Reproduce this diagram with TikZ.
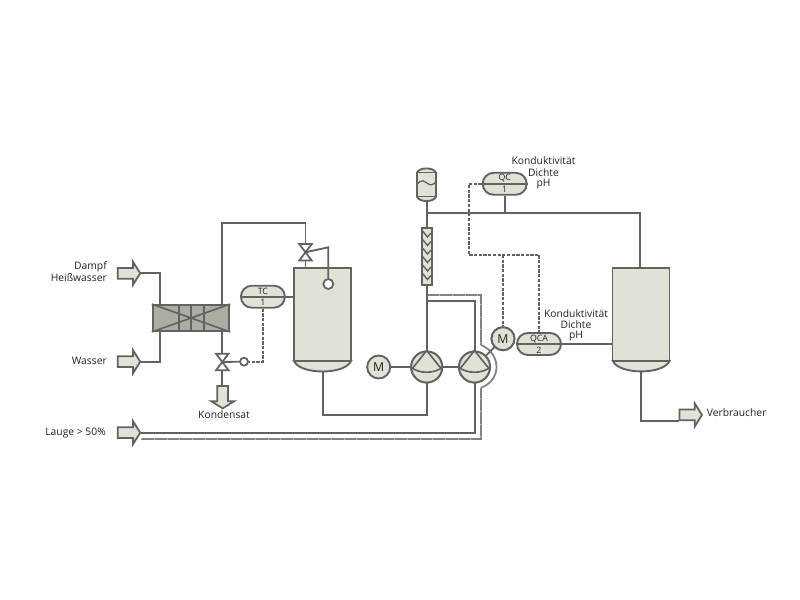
\documentclass[tikz,border=0pt]{standalone}
\usepackage{fontspec}
\setmainfont{Open Sans}
\usetikzlibrary{shapes.misc,shapes.arrows,calc}
\definecolor{ln}{HTML}{5F6462}
\definecolor{bodyfill}{HTML}{E2E1D5}
\definecolor{hxfill}{HTML}{ABADA3}
\definecolor{ductline}{HTML}{7F8383}
\definecolor{ductlight}{HTML}{B4B6B4}
\definecolor{txt}{HTML}{222222}
\def\u{0.03cm}
\tikzset{
  pipe/.style={draw=ln,line width=1.6pt},
  thin pipe/.style={draw=ln,line width=1.6pt},
  signal/.style={draw=ln,line width=1.5pt,dash pattern=on 2.8pt off 1.2pt},
  duct/.style={draw=ductline,line width=1.6pt,postaction={draw=ductlight,dash pattern=on .8pt off 10pt}},
  vessel/.style={rectangle,draw=ln,fill=bodyfill,line width=1.6pt,inner sep=0pt},
  bowl/.style={draw=ln,fill=bodyfill,line width=1.6pt},
  round item/.style={circle,draw=ln,fill=bodyfill,line width=1.6pt,inner sep=0pt},
  motor/.style={round item,minimum size=23*\u,font=\fontsize{10.5pt}{11pt}\selectfont,text=txt},
  pump/.style={round item,minimum size=31*\u},
  sensor/.style={circle,draw=ln,fill=white,line width=1.5pt,inner sep=0pt,minimum size=8*\u},
  instrument/.style={rounded rectangle,draw=ln,fill=bodyfill,line width=1.6pt,inner sep=0pt,minimum width=44*\u,minimum height=22*\u},
  inst text/.style={font=\fontsize{7.5pt}{8pt}\selectfont,text=txt,inner sep=0pt},
  caption/.style={font=\fontsize{8.8pt}{10pt}\selectfont,text=txt,inner sep=0pt},
  valve box/.style={rectangle,inner sep=0pt,minimum width=12*\u,minimum height=16*\u},
  valve shape/.style={draw=ln,fill=white,line width=1.5pt},
  flow/.style={single arrow,draw=ln,fill=bodyfill,line width=1.5pt,inner xsep=0pt,inner ysep=4.5*\u,minimum height=22.5*\u,single arrow head extend=6*\u,single arrow tip angle=116,single arrow head indent=0pt},
}
\newcommand{\pumpface}[1]{%
  \draw[ln,line width=1.4pt] (#1.west) .. controls ($(#1)+(-7,7)$) and ($(#1)+(7,7)$) .. (#1.east);
  \draw[ln,line width=1.4pt] ($(#1)+(-14,1)$) -- (#1.north) -- ($(#1)+(14,1)$);
}
\newcommand{\valvetie}[1]{%
  \draw[valve shape] (#1.north west) -- (#1.north east) -- (#1.south west) -- (#1.south east) -- cycle;
}
\newcommand{\midbar}[1]{\draw[ln,line width=1.5pt] (#1.west) -- (#1.east);}
\begin{document}
\begin{tikzpicture}[x=\u,y=-\u]
\useasboundingbox[fill=white] (0,0) rectangle (800,600);

% --- nodes
\node[flow] (inDampf) at (127.3,273.3) {};
\node[flow] (inWasser) at (127.3,361.7) {};
\node[flow] (inLauge) at (127.3,432.7) {};
\node[flow] (outVerb) at (689,414.9) {};
\node[flow,shape border rotate=270,inner xsep=4.5*\u,inner ysep=0pt] (outKond) at (222.7,395.5) {};

\node[rectangle,draw=ln,fill=hxfill,line width=1.6pt,inner sep=0pt,minimum width=76.5*\u,minimum height=26*\u] (hx) at (191,318) {};
\draw[ln,line width=1.4pt] (hx.north west) -- (hx.south east) (hx.south west) -- (hx.north east);
\draw[ln,line width=1.5pt] (178.7,305) -- (178.7,331) (191,305) -- (191,331) (203.7,305) -- (203.7,331);

\node[valve box] (vTop) at (305.5,252.3) {};
\node[valve box] (vBot) at (222.3,362) {};
\node[sensor] (sBot) at (244,361.7) {};

% tank 1
\draw[bowl] (294,361) .. controls (300,375) and (345,375) .. (351,361) -- cycle;
\coordinate (t1bot) at (322.9,371.5);
\node[vessel,minimum width=57*\u,minimum height=93.3*\u] (t1) at (322.5,314.3) {};
\node[sensor,minimum size=10*\u] (sTop) at (328.3,284) {};
% tank 2
\draw[bowl] (612.7,360.7) .. controls (618.7,375) and (663.7,375) .. (669.7,360.7) -- cycle;
\coordinate (t2bot) at (641,371.5);
\node[vessel,minimum width=57*\u,minimum height=92.7*\u] (t2) at (641,314.3) {};

% head vessel
\node[rectangle,inner sep=0pt,minimum width=19*\u,minimum height=32*\u] (head) at (426.7,184.5) {};
\draw[bowl] (417,172.7) .. controls (419,167) and (434,167) .. (436,172.7) -- (436,196.7) .. controls (434,202.5) and (419,202.5) .. (417,196.7) -- cycle;
\draw[ln,line width=1.3pt] (417,172.7) -- (436,172.7) (417,196.7) -- (436,196.7);
\draw[ln,line width=1.1pt] (417,184) .. controls (422,179) and (425,181) .. (427,183) .. controls (430,186) and (433,185) .. (436,182);

% packed column
\node[vessel,minimum width=10*\u,minimum height=57*\u] (col) at (426.7,256.2) {};
\foreach \yy in {231,239.5,248,256.5,265,273.5}{
  \draw[ln,line width=1.2pt] (422.5,\yy) -- (427.5,\yy+6) -- (431,\yy+2);
}

\node[motor] (m1) at (378.7,367) {M};
\node[pump] (p1) at (426.7,367) {};
\node[pump] (p2) at (474.5,367) {};
\node[motor] (m2) at (503,338.7) {M};

\node[instrument] (tc) at (262.9,296.7) {};
\node[instrument] (qc) at (504.7,183.8) {};
\node[instrument] (qca) at (539,344) {};

% --- connectors
\coordinate (ductTop) at (426.7,295);
\coordinate (innerTop) at (426.7,301);
\draw[duct] (inLauge.tip |- 0,439) -- (481,439) -- (481,387.7) coordinate (arcEnd);
\draw[duct] (ductTop) -- (481,295) -- (481,345) coordinate (arcStart);
\draw[draw=ductline,line width=1.5pt] (arcStart) .. controls (491,349) and (496.5,358) .. (496.5,367) .. controls (496.5,376) and (491,384) .. (arcEnd);

\draw[pipe] (inDampf.tip) -| (hx.north -| 160,0);
\draw[pipe] (inWasser.tip) -| (hx.south -| 160,0);
\draw[pipe] (hx.north -| 222.3,0) |- (vTop.north |- 0,223) -- (vTop.north);
\draw[pipe] (vTop.south) -- (vTop.south |- t1.north);
\draw[pipe] (hx.south -| vBot.north) -- (vBot.north);
\draw[pipe] (vBot.south) -- (outKond.before tail -| vBot.south);
\draw[pipe] (vBot.center) -- (sBot.west);
\draw[thin pipe] (vTop.center) -- (sTop.north |- 0,247.3) -- (sTop.north);
\draw[signal] (tc.south) |- (sBot.east);
\draw[pipe] (tc.east) -- (tc.east -| t1.west);
\draw[pipe] (t1bot) |- (426.7,414.9) -- (p1.south);
\draw[pipe] (m1.east) -- (p1.west);
\draw[pipe] (p1.east) -- (p2.west);
\draw[pipe] (p1.north) -- (col.south -| p1.north);
\draw[pipe] (innerTop) -- (475,301) -- (p2.north -| 475,0);
\draw[pipe] (p2.south -| 475,0) -- (475,432.7) -- (inLauge.tip);
\draw[pipe] (m2) -- (p2);
\draw[pipe] (head.south) -- (col.north);
\draw[pipe] (col.north |- 0,213.3) -- (640.3,213.3) -- (t2.north -| 640.3,0);
\draw[pipe] (qc.south) -- (qc.south |- 0,213.3);
\draw[pipe] (qca.east) -- (qca.east -| t2.west);
\draw[pipe] (t2bot) |- (outVerb.before tail);
\draw[signal] (qc.west) -- (469,183.8) -- (469,255) -- (539.3,255) -- (qca.north -| 539.3,0);
\draw[signal] (503.3,255) -- (m2.north -| 503.3,0);

% --- redraw faces on top
\node[motor] at (m2) {M};
\node[pump] at (p1) {};
\node[pump] at (p2) {};
\pumpface{p1}
\pumpface{p2}
\valvetie{vTop}
\valvetie{vBot}
\midbar{tc}
\midbar{qc}
\midbar{qca}
\draw[ln,line width=1.6pt] (294,361) -- (351,361) (612.7,360.7) -- (669.7,360.7);

% --- labels
\node[inst text] (tcA) at (262.9,291) {TC};
\node[inst text] (tcB) at (262.9,302) {1};
\node[inst text] (qcA) at (504.7,178.5) {QC};
\node[inst text] (qcB) at (504.7,189.5) {1};
\node[inst text] (qcaA) at (539,339) {QCA};
\node[inst text] (qcaB) at (539,350) {2};
\node[caption,anchor=east] (lDampf) at (107,267) {Dampf};
\node[caption,anchor=east] (lHeiss) at (107,277.5) {Heißwasser};
\node[caption,anchor=east] (lWasser) at (107,361) {Wasser};
\node[caption,anchor=east] (lLauge) at (106,433) {Lauge > 50\%};
\node[caption] (lKond) at (224,415) {Kondensat};
\node[caption,anchor=west] (lVerb) at (706.7,413) {Verbraucher};
\node[caption] (k1a) at (543.5,161) {Konduktivität};
\node[caption] (k1b) at (543.5,172.5) {Dichte};
\node[caption] (k1c) at (543.5,184.5) {pH};
\node[caption] (k2a) at (576,313.5) {Konduktivität};
\node[caption] (k2b) at (576,324.5) {Dichte};
\node[caption] (k2c) at (576,336) {pH};
\end{tikzpicture}
\end{document}
